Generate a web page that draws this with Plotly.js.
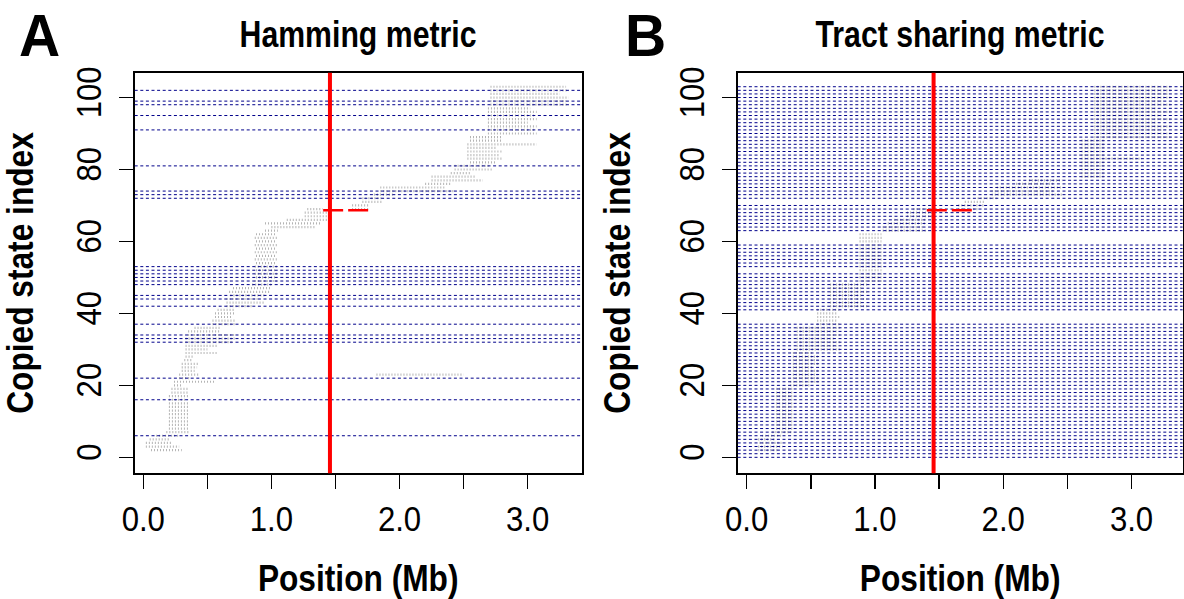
<!DOCTYPE html>
<html>
<head>
<meta charset="utf-8">
<script src="https://cdn.plot.ly/plotly-3.0.1.min.js"></script>
<style>
  html, body { margin: 0; padding: 0; background: #ffffff; }
  #chart { width: 1184px; height: 599px; }
</style>
</head>
<body>
<div id="chart"></div>
<script>
// ---------------- data ----------------
var panelTitles = ['Hamming metric', 'Tract sharing metric'];
var panelLetters = ['A', 'B'];
var xAxisTitle = 'Position (Mb)';
var yAxisTitle = 'Copied state index';

var xTickVals = [0, 0.5, 1, 1.5, 2, 2.5, 3];
var xTickText = ['0.0', '', '1.0', '', '2.0', '', '3.0'];
var yTickVals = [0, 20, 40, 60, 80, 100];
var yTickText = ['0', '20', '40', '60', '80', '100'];

// focal position (Mb) and focal copied state
var focalPos = 1.457;
var focalState = 68.7;
var focalSegStart = 1.404;
var focalSegEnd = 1.756;

// states flagged with dashed blue lines
var hammingLines = [6, 16, 22, 32, 33, 34, 37, 42, 44, 45, 48, 49, 50, 51, 52, 53, 72, 73, 74, 81, 91, 95, 98, 99, 102];
var tractLines = [0, 1, 2, 3, 4, 5, 6, 7, 8, 9, 10, 11, 12, 13, 14, 15, 16, 17, 18, 19, 20, 21, 22, 23, 24, 25, 26, 27, 28, 29, 30, 31, 32, 33, 34, 35, 36, 37,
  41, 42, 43, 44, 45, 46, 47, 48, 49, 50, 51,
  53, 54, 55, 56, 57, 58, 59,
  63, 64, 65, 66, 67, 68, 69, 70,
  72, 73, 74, 75, 76, 77, 78, 79, 80, 81, 82, 83, 84, 85, 86, 87, 88, 89, 90, 91, 92, 93, 94, 95, 96, 97, 98, 99, 100, 101, 102, 103];

// copied-state tracts (grey): state, start (Mb), end (Mb)
var hamState = [2, 3, 4, 5, 6, 7, 8, 9, 10, 11, 12, 13, 14, 15, 16, 17, 18, 19, 20, 21, 22, 23, 23, 24, 25, 26, 27, 28, 29, 30,
  31, 32, 33, 34, 35, 36, 37, 38, 39, 40, 41, 42, 43, 44, 45, 46, 47, 48, 49, 50, 51, 52, 53, 54, 55, 56, 57, 58, 59, 60,
  61, 62, 63, 64, 65, 66, 67, 68, 69, 69, 70, 71, 72, 73, 74, 75, 76, 77, 78, 79, 80, 81, 82, 83, 84, 85, 86, 87, 88, 89,
  90, 91, 92, 93, 94, 95, 96, 97, 98, 99, 100, 101, 102, 103];
var hamStart = [0.06, 0.02, 0.02, 0.05, 0.10, 0.18, 0.20, 0.20, 0.20, 0.20, 0.20, 0.20, 0.20, 0.20, 0.20, 0.20, 0.22, 0.22, 0.24, 0.24, 0.28, 0.28, 1.82, 0.30, 0.30, 0.30, 0.32, 0.33, 0.33, 0.33,
  0.33, 0.33, 0.33, 0.35, 0.35, 0.40, 0.54, 0.54, 0.56, 0.56, 0.58, 0.65, 0.65, 0.65, 0.68, 0.67, 0.70, 0.85, 0.87, 0.88, 0.87, 0.88, 0.87, 0.88, 0.87, 0.88, 0.87, 0.88, 0.87, 0.88,
  0.87, 0.88, 0.95, 1.00, 0.95, 1.12, 1.26, 1.26, 1.28, 1.63, 1.63, 1.71, 1.71, 1.80, 1.85, 1.85, 2.20, 2.25, 2.25, 2.40, 2.43, 2.43, 2.55, 2.53, 2.53, 2.53, 2.53, 2.53, 2.55, 2.55,
  2.69, 2.69, 2.69, 2.69, 2.69, 2.69, 2.69, 2.69, 2.71, 2.71, 2.71, 2.71, 2.71, 2.71];
var hamEnd = [0.30, 0.28, 0.22, 0.20, 0.28, 0.36, 0.36, 0.36, 0.36, 0.36, 0.35, 0.36, 0.36, 0.36, 0.34, 0.36, 0.36, 0.36, 0.30, 0.56, 0.36, 0.44, 2.50, 0.40, 0.42, 0.44, 0.38, 0.40, 0.58, 0.50,
  0.58, 0.70, 0.72, 0.72, 0.60, 0.60, 0.72, 0.72, 0.70, 0.72, 0.72, 0.85, 0.95, 0.90, 0.95, 0.99, 0.99, 1.00, 1.05, 1.04, 1.05, 1.04, 1.05, 1.04, 1.05, 1.04, 1.05, 1.04, 1.05, 1.04,
  1.05, 1.04, 1.05, 1.35, 1.39, 1.46, 1.46, 1.46, 1.40, 1.77, 1.77, 1.87, 1.87, 1.95, 2.42, 2.35, 2.40, 2.65, 2.60, 2.55, 2.73, 2.70, 2.75, 2.80, 2.78, 2.80, 2.75, 3.07, 2.80, 2.80,
  3.07, 3.05, 3.07, 3.00, 3.07, 3.05, 3.07, 3.02, 3.32, 3.30, 3.32, 3.25, 3.32, 3.30];

var tractState = [2, 3, 4, 5, 6, 7, 8, 9, 10, 11, 12, 13, 14, 15, 16, 17, 18, 19, 20, 21, 22, 23, 24, 25, 26, 27, 28, 29, 30,
  31, 32, 33, 34, 35, 36, 37, 38, 39, 40, 41, 42, 43, 44, 45, 46, 47, 48, 49, 50, 51, 52, 53, 54, 55, 56, 57, 58, 59, 60,
  61, 62, 63, 64, 65, 66, 67, 68, 69, 69, 70, 71, 72, 73, 74, 75, 76, 77, 78, 79, 80, 81, 82, 83, 84, 85, 86, 87, 88, 89,
  90, 91, 92, 93, 94, 95, 96, 97, 98, 99, 100, 101, 102, 103];
var tractStart = [0.09, 0.09, 0.10, 0.09, 0.12, 0.20, 0.23, 0.23, 0.23, 0.23, 0.23, 0.23, 0.23, 0.23, 0.23, 0.23, 0.23, 0.23, 0.34, 0.34, 0.36, 0.36, 0.36, 0.36, 0.36, 0.36, 0.36, 0.36, 0.39,
  0.39, 0.39, 0.39, 0.39, 0.39, 0.39, 0.55, 0.55, 0.55, 0.55, 0.55, 0.65, 0.65, 0.65, 0.65, 0.65, 0.65, 0.65, 0.88, 0.88, 0.88, 0.88, 0.88, 0.88, 0.88, 0.88, 0.88, 0.88, 0.88, 0.88,
  0.88, 0.88, 1.06, 1.06, 1.10, 1.15, 1.25, 1.25, 1.30, 1.65, 1.65, 1.70, 1.80, 1.91, 1.91, 1.95, 2.10, 2.20, 2.61, 2.61, 2.61, 2.61, 2.61, 2.61, 2.61, 2.61, 2.61, 2.61, 2.61, 2.71,
  2.71, 2.71, 2.71, 2.71, 2.71, 2.71, 2.71, 2.71, 2.71, 2.71, 2.71, 2.71, 2.71, 2.71];
var tractEnd = [0.25, 0.28, 0.28, 0.22, 0.28, 0.36, 0.36, 0.36, 0.36, 0.36, 0.36, 0.36, 0.36, 0.36, 0.36, 0.36, 0.36, 0.36, 0.50, 0.57, 0.57, 0.55, 0.57, 0.52, 0.57, 0.55, 0.57, 0.52, 0.73,
  0.70, 0.73, 0.68, 0.73, 0.70, 0.73, 0.73, 0.70, 0.73, 0.70, 0.73, 0.94, 0.90, 0.94, 0.90, 0.94, 0.90, 0.94, 1.06, 1.05, 1.06, 1.05, 1.06, 1.05, 1.06, 1.05, 1.06, 1.05, 1.06, 1.05,
  1.06, 1.05, 1.40, 1.38, 1.40, 1.40, 1.45, 1.45, 1.45, 1.80, 1.86, 1.86, 1.95, 2.46, 2.40, 2.46, 2.40, 2.46, 2.79, 2.79, 2.79, 2.79, 2.79, 3.08, 2.79, 2.79, 2.79, 2.79, 2.79, 3.31,
  3.31, 3.25, 3.31, 3.20, 3.31, 3.25, 3.31, 3.20, 3.31, 3.25, 3.31, 3.28, 3.31, 3.31];

// ---------------- layout constants ----------------
var W = 1184, H = 599;
var FONT = "'Liberation Sans', Arial, Helvetica, sans-serif";
var px = function (v) { return v / W; };
var py = function (v) { return 1 - v / H; };

var panels = [
  { xd: [px(134.7), px(581.7)], xr: [-0.067, 3.422], lines: hammingLines, s: hamState, a: hamStart, b: hamEnd },
  { xd: [px(737.7), px(1182.6)], xr: [-0.070, 3.398], lines: tractLines, s: tractState, a: tractStart, b: tractEnd }
];
var yDomain = [py(473.3), py(72.7)];
var yRange = [-4.44, 106.9];

var traces = [];
var shapes = [];
var annotations = [];
var layout = {
  width: W, height: H,
  margin: { l: 0, r: 0, t: 0, b: 0 },
  paper_bgcolor: '#ffffff', plot_bgcolor: '#ffffff',
  showlegend: false,
  font: { family: FONT, color: '#000000', size: 35 }
};

panels.forEach(function (p, i) {
  var xa = i === 0 ? 'x' : 'x2', ya = i === 0 ? 'y' : 'y2';
  var xk = i === 0 ? 'xaxis' : 'xaxis2', yk = i === 0 ? 'yaxis' : 'yaxis2';
  // grey copied-state tracts
  var gx = [], gy = [];
  for (var k = 0; k < p.s.length; k++) {
    gx.push(p.a[k], p.b[k], null);
    gy.push(p.s[k], p.s[k], null);
  }
  traces.push({
    type: 'scatter', mode: 'lines', x: gx, y: gy, xaxis: xa, yaxis: ya,
    line: { color: '#b4b4b4', width: 2.2, dash: '1px,2px' }, hoverinfo: 'skip'
  });
  // dashed blue flagged states
  p.lines.forEach(function (v) {
    shapes.push({
      type: 'line', xref: xa + ' domain', yref: ya, x0: 0, x1: 1, y0: v, y1: v,
      line: { color: '#00008B', width: 1, dash: '3px,2.6px' }, layer: 'above'
    });
  });
  // focal position vertical red line
  shapes.push({
    type: 'line', xref: xa, yref: ya + ' domain', x0: focalPos, x1: focalPos, y0: 0, y1: 1,
    line: { color: '#FF0000', width: 4 }, layer: 'above'
  });
  // focal copied state red dashed
  shapes.push({
    type: 'line', xref: xa, yref: ya, x0: focalSegStart, x1: focalSegEnd, y0: focalState, y1: focalState,
    line: { color: '#FF0000', width: 2.5, dash: '20px,5px' }, layer: 'above'
  });

  layout[xk] = {
    domain: p.xd, range: p.xr, anchor: ya, autorange: false,
    showgrid: false, zeroline: false,
    showline: true, mirror: true, linecolor: '#000000', linewidth: 2,
    ticks: 'outside', ticklen: 14, tickwidth: 1.5, tickcolor: '#000000',
    tickmode: 'array', tickvals: xTickVals, ticktext: xTickText,
    tickfont: { family: FONT, size: 35, color: '#000000' },
    ticklabelstandoff: 0,
    title: { text: xAxisTitle, font: { family: FONT, size: 36, color: '#000000', weight: 'bold' }, standoff: 37 },
    automargin: false
  };
  layout[yk] = {
    domain: yDomain, range: yRange, anchor: xa, autorange: false,
    showgrid: false, zeroline: false,
    showline: true, mirror: true, linecolor: '#000000', linewidth: 2,
    ticks: 'outside', ticklen: 14, tickwidth: 1.5, tickcolor: '#000000',
    tickmode: 'array', tickvals: yTickVals, ticktext: yTickText, tickangle: -90,
    tickfont: { family: FONT, size: 35, color: '#000000' },
    ticklabelstandoff: 4,
    title: { text: yAxisTitle, font: { family: FONT, size: 36, color: '#000000', weight: 'bold' }, standoff: 30 },
    automargin: false
  };

  var cx = (p.xd[0] + p.xd[1]) / 2;
  annotations.push({
    xref: 'paper', yref: 'paper', x: cx, y: py(35), xanchor: 'center', yanchor: 'middle',
    text: panelTitles[i], showarrow: false,
    font: { family: FONT, size: 36, color: '#000000', weight: 'bold' }
  });
  annotations.push({
    xref: 'paper', yref: 'paper', x: i === 0 ? px(39.5) : px(645), y: py(36), xanchor: 'center', yanchor: 'middle',
    text: panelLetters[i], showarrow: false,
    font: { family: FONT, size: 60, color: '#000000', weight: 'bold' }
  });
});

layout.shapes = shapes;
layout.annotations = annotations;

// The reference uses a narrow (condensed) sans face; condense the real SVG text to match.
function condenseText(gd) {
  var nodes = gd.querySelectorAll('svg text');
  nodes.forEach(function (t) {
    var ratio = 0.89;
    var cls = t.getAttribute('class') || '';
    if (cls.indexOf('annotation-text') >= 0) {
      ratio = (t.textContent.length <= 1) ? 0.95 : 0.84;
    } else if (/[xy]\d*title/.test(cls)) {
      ratio = 0.88;
    }
    var len = t.getComputedTextLength();
    if (len > 0) {
      t.setAttribute('textLength', (len * ratio).toFixed(2));
      t.setAttribute('lengthAdjust', 'spacingAndGlyphs');
    }
  });
}

Plotly.newPlot('chart', traces, layout, { displayModeBar: false, staticPlot: true })
  .then(function (gd) { condenseText(gd); });
</script>
</body>
</html>
